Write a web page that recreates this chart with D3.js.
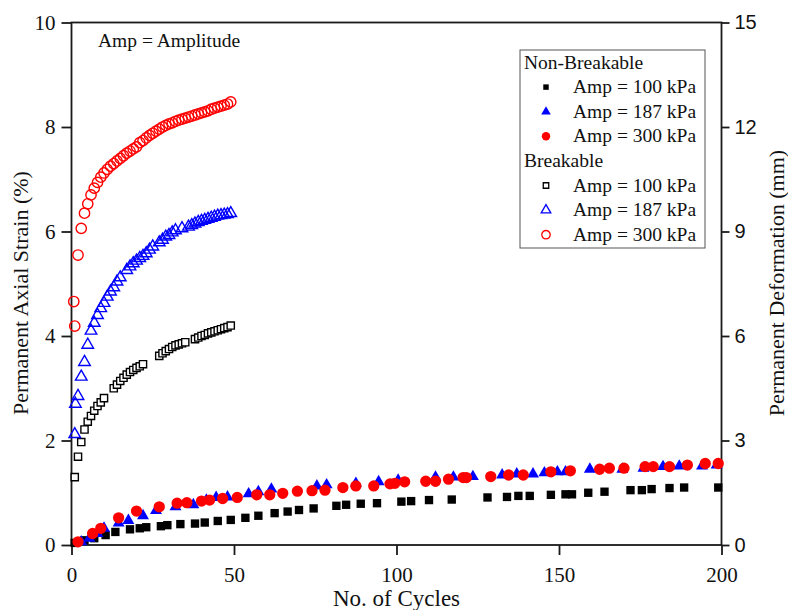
<!DOCTYPE html>
<html>
<head>
<meta charset="utf-8">
<title>Permanent Axial Strain vs Cycles</title>
<script src="https://cdn.jsdelivr.net/npm/d3@7"></script>
<style>
  body { margin: 0; background: #fff; }
  text { font-family: "Liberation Serif", "Times New Roman", serif; }
</style>
</head>
<body>
<div id="chart"></div>
<script>
// [cycle, strain %]
var nb100 = [[1,0.04],[4,0.09],[7,0.13],[10.5,0.19],[13.5,0.25],[18,0.30],[21,0.32],[23,0.34],[27.5,0.36],[29.5,0.38],[33.5,0.40],[38,0.41],[41,0.43],[45,0.46],[49,0.48],[53.5,0.52],[57.5,0.56],[62.5,0.61],[66.5,0.64],[70,0.67],[74.5,0.70],[81.5,0.75],[84.5,0.77],[89,0.79],[94,0.80],[101.5,0.83],[104.5,0.84],[110,0.86],[117,0.87],[128,0.91],[134,0.92],[137.5,0.94],[141,0.94],[147.5,0.96],[152,0.97],[154,0.97],[159,1.00],[164,1.02],[172,1.05],[175.5,1.05],[178.5,1.07],[184,1.09],[188.5,1.10],[199,1.10]];
var nb187 = [[3,0.06],[5.5,0.13],[8,0.22],[10,0.32],[14.5,0.42],[17.5,0.47],[22,0.56],[26,0.66],[32,0.73],[37.5,0.77],[41.5,0.86],[44.5,0.91],[48,0.92],[54.5,0.98],[57.5,1.02],[61.5,1.07],[75.5,1.13],[78.5,1.15],[87.5,1.18],[94.5,1.21],[100.5,1.24],[112,1.30],[117.5,1.30],[123.5,1.31],[132.5,1.34],[137,1.36],[142,1.36],[145.5,1.38],[149.5,1.40],[152,1.40],[159.5,1.45],[169.5,1.45],[176,1.47],[182,1.50],[187,1.51],[194,1.51],[198.5,1.53]];
var nb300 = [[2,0.06],[6.5,0.22],[9,0.32],[14.5,0.52],[20,0.65],[27,0.73],[32.5,0.80],[35.5,0.81],[40,0.84],[42.5,0.86],[46.5,0.89],[51,0.91],[57,0.96],[61,0.96],[65,0.99],[69.5,1.03],[74,1.04],[78,1.05],[83.5,1.10],[87.5,1.13],[93,1.13],[98,1.17],[99.5,1.18],[102.5,1.21],[109,1.22],[112,1.22],[116,1.26],[120.5,1.29],[121.5,1.29],[129,1.31],[134.5,1.34],[139,1.34],[147.5,1.40],[153.5,1.42],[162.5,1.45],[165.5,1.47],[170,1.47],[176.5,1.50],[179,1.50],[184,1.50],[189.5,1.53],[195,1.56],[199,1.56]];

var br100 = [[1,1.30],[2,1.69],[3,1.97],[4,2.21],[5,2.36],[6,2.47],[7,2.57],[8,2.66],[9,2.73],[10,2.81],[13,3.00],[14,3.07],[15,3.14],[16,3.20],[17,3.26],[18,3.31],[19,3.35],[20,3.39],[21,3.42],[22,3.46],[27,3.62],[28,3.67],[29,3.71],[30,3.75],[31,3.79],[32,3.82],[33,3.84],[34,3.86],[35,3.88],[38,3.94],[39,3.97],[40,4.00],[41,4.02],[42,4.05],[43,4.07],[44,4.09],[45,4.11],[46,4.13],[47,4.15],[48,4.17],[49,4.20]];
var br187 = [[1,2.12],[1.2,2.70],[2,2.85],[3,3.22],[4,3.50],[5,3.83],[6,4.10],[7,4.25],[8,4.40],[9,4.53],[10,4.63],[11,4.75],[12,4.85],[13,4.93],[14,5.04],[15,5.12],[17,5.26],[18,5.33],[19,5.39],[20,5.44],[21,5.49],[22,5.53],[23,5.58],[24,5.65],[25,5.71],[27,5.79],[28,5.84],[29,5.90],[30,5.93],[31,5.98],[32,6.02],[34,6.06],[36,6.09],[37,6.12],[38,6.15],[39,6.18],[40,6.20],[41,6.22],[42,6.24],[43,6.26],[44,6.28],[45,6.30],[46,6.31],[47,6.32],[48,6.33],[49,6.35]];
var br300 = [[0.7,4.66],[1,4.19],[2,5.55],[3,6.06],[4,6.35],[5,6.53],[6,6.70],[7,6.83],[8,6.94],[9,7.04],[10,7.12],[11,7.19],[12,7.25],[13,7.30],[14,7.35],[15,7.40],[16,7.45],[17,7.50],[18,7.54],[19,7.58],[20,7.62],[21,7.70],[22,7.74],[23,7.79],[24,7.84],[25,7.88],[26,7.92],[27,7.96],[28,8.00],[29,8.03],[30,8.06],[31,8.08],[32,8.11],[33,8.13],[34,8.15],[35,8.17],[36,8.19],[37,8.21],[38,8.23],[39,8.25],[40,8.27],[41,8.29],[42,8.31],[43,8.34],[44,8.36],[45,8.38],[46,8.40],[47,8.42],[48,8.44],[49,8.48]];

var xTicks = [0, 50, 100, 150, 200];
var yTicks = [0, 2, 4, 6, 8, 10];
var yRightTicks = [0, 3, 6, 9, 12, 15];
var legendGroups = ["Non-Breakable", "Breakable"];
var legendLabels = ["Amp = 100 kPa", "Amp = 187 kPa", "Amp = 300 kPa"];

var W = 788, H = 610;
var svg = d3.select("#chart").append("svg")
  .attr("width", W).attr("height", H)
  .style("background", "#fff");

var x = d3.scaleLinear().domain([0, 200]).range([71.5, 721.5]);
var y = d3.scaleLinear().domain([0, 10]).range([545, 22.5]);
var yR = d3.scaleLinear().domain([0, 15]).range([545, 22.5]);

// series definitions: symbol, color, filled
var series = [
  {data: nb100, sym: d3.symbolSquare, size: 70, color: "#000", fill: true},
  {data: nb187, sym: d3.symbolTriangle, size: 62, color: "#0000ff", fill: true},
  {data: nb300, sym: d3.symbolCircle, size: 100, color: "#ff0000", fill: true},
  {data: br100, sym: d3.symbolSquare, size: 52, color: "#000", fill: false},
  {data: br187, sym: d3.symbolTriangle, size: 58, color: "#0000ff", fill: false},
  {data: br300, sym: d3.symbolCircle, size: 84, color: "#ff0000", fill: false}
];

// axes
var axisColor = "#1a1a1a";
var gL = svg.append("g").attr("transform", "translate(" + x(0) + ",0)")
  .call(d3.axisLeft(y).tickValues(yTicks).tickSize(10).tickSizeOuter(0).tickPadding(6));
var gB = svg.append("g").attr("transform", "translate(0," + y(0) + ")")
  .call(d3.axisBottom(x).tickValues(xTicks).tickSize(10).tickSizeOuter(0).tickPadding(12));
var gR = svg.append("g").attr("transform", "translate(" + x(200) + ",0)")
  .call(d3.axisRight(yR).tickValues(yRightTicks).tickSize(8).tickSizeOuter(0).tickPadding(5));

[gL, gB, gR].forEach(function(g) {
  g.select(".domain").remove();
  g.selectAll(".tick line").attr("stroke", axisColor).attr("stroke-width", 1.8);
  g.selectAll(".tick text").attr("fill", "#111")
    .style("font-family", '"Liberation Serif", "Times New Roman", serif')
    .style("font-size", "21px");
});
gR.selectAll(".tick text")
  .style("font-family", '"Liberation Sans", Arial, sans-serif')
  .style("font-size", "20px");

// frame
svg.append("rect")
  .attr("x", x(0)).attr("y", y(10))
  .attr("width", x(200) - x(0)).attr("height", y(0) - y(10))
  .attr("fill", "none").attr("stroke", axisColor).attr("stroke-width", 1.8);

// markers
series.forEach(function(s) {
  svg.append("g").selectAll("path")
    .data(s.data)
    .join("path")
    .attr("transform", function(d) { return "translate(" + x(d[0]) + "," + y(d[1]) + ")"; })
    .attr("d", d3.symbol().type(s.sym).size(s.size))
    .attr("fill", s.fill ? s.color : (s.sym === d3.symbolSquare ? "#fff" : "none"))
    .attr("stroke", s.fill ? "none" : s.color)
    .attr("stroke-width", 1.4);
});

// axis titles
svg.append("text")
  .attr("x", x(100)).attr("y", 606)
  .attr("text-anchor", "middle")
  .style("font-size", "23px").attr("fill", "#111")
  .text("No. of Cycles");

svg.append("text")
  .attr("transform", "translate(28,293) rotate(-90)")
  .attr("text-anchor", "middle")
  .style("font-size", "22px").attr("fill", "#111")
  .text("Permanent Axial Strain (%)");

svg.append("text")
  .attr("transform", "translate(784,283) rotate(-90)")
  .attr("text-anchor", "middle")
  .style("font-size", "22px").attr("fill", "#111")
  .text("Permanent Deformation (mm)");

svg.append("text")
  .attr("x", 98).attr("y", 47)
  .style("font-size", "19.5px").attr("fill", "#111")
  .text("Amp = Amplitude");

// legend
var lg = svg.append("g");
lg.append("rect")
  .attr("x", 520).attr("y", 50).attr("width", 185).attr("height", 198)
  .attr("fill", "#fff").attr("stroke", "#555").attr("stroke-width", 1);

var rowH = 24.6, legTop = 68.5;
var legSizes = [30, 40, 56];
legendGroups.forEach(function(gname, gi) {
  var base = legTop + gi * 4 * rowH;
  lg.append("text").attr("x", 524).attr("y", base)
    .style("font-size", "19.5px").attr("fill", "#111").text(gname);
  legendLabels.forEach(function(lab, li) {
    var s = series[gi * 3 + li];
    var yy = base + (li + 1) * rowH;
    lg.append("path")
      .attr("transform", "translate(546," + (yy - 6) + ")")
      .attr("d", d3.symbol().type(s.sym).size(legSizes[li]))
      .attr("fill", s.fill ? s.color : "none")
      .attr("stroke", s.fill ? "none" : s.color)
      .attr("stroke-width", 1.3);
    lg.append("text").attr("x", 573).attr("y", yy)
      .style("font-size", "19.5px").attr("fill", "#111").text(lab);
  });
});
</script>
</body>
</html>
